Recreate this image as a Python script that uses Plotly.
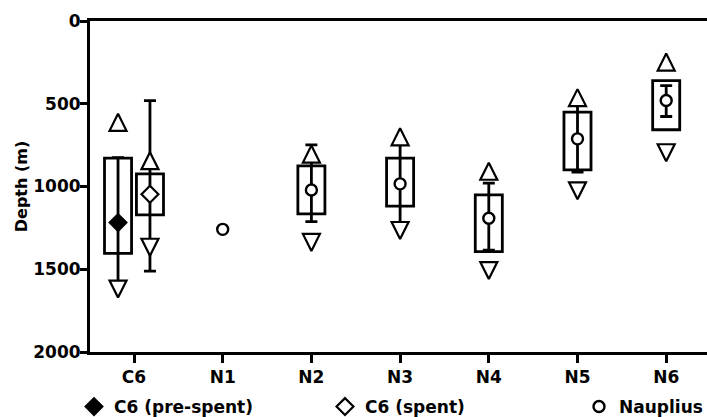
import plotly.graph_objects as go

# ---- data -------------------------------------------------------------
stages = ["C6", "N1", "N2", "N3", "N4", "N5", "N6"]
depth_ticks = [0, 500, 1000, 1500, 2000]

# adult females (C6), split by spawning state
c6_groups = ["C6 (pre-spent)", "C6 (spent)"]
c6_mean = [1218, 1047]
c6_box_top = [829, 924]
c6_box_bottom = [1404, 1172]
c6_whisk_top = [825, 481]
c6_whisk_bottom = [1590, 1511]
c6_shallowest = [612, 844]
c6_deepest = [1620, 1367]

# nauplii N1..N6 (N1 has a single observation)
naup_stage = ["N1", "N2", "N3", "N4", "N5", "N6"]
naup_mean = [1259, 1021, 984, 1192, 712, 480]
naup_box_top = [None, 875, 829, 1051, 550, 360]
naup_box_bottom = [None, 1166, 1118, 1394, 899, 657]
naup_whisk_top = [None, 748, 740, 980, 480, 391]
naup_whisk_bottom = [None, 1212, 1250, 1384, 913, 577]
naup_shallowest = [None, 804, 700, 908, 463, 248]
naup_deepest = [None, 1338, 1266, 1508, 1026, 796]

# ---- layout helpers -----------------------------------------------------
C6_OFFSET = 0.18          # side-by-side placement of the two C6 groups
BOX_WIDTH = 0.305
FONT = "DejaVu Sans"
LW = 2.8
W, H = 707, 417

c6_x = [stages.index("C6") - C6_OFFSET, stages.index("C6") + C6_OFFSET]
naup_x = [stages.index(s) for s in naup_stage]

all_x = c6_x + naup_x
all_mean = c6_mean + naup_mean
all_box_top = c6_box_top + naup_box_top
all_box_bottom = c6_box_bottom + naup_box_bottom
all_wt = c6_whisk_top + naup_whisk_top
all_wb = c6_whisk_bottom + naup_whisk_bottom
all_sh = c6_shallowest + naup_shallowest
all_dp = c6_deepest + naup_deepest


def keep(*cols):
    """Rows where every column has a value."""
    rows = [r for r in zip(*cols) if all(v is not None for v in r)]
    return [list(c) for c in zip(*rows)]


fig = go.Figure()

# interquartile boxes
bx, btop, bbot = keep(all_x, all_box_top, all_box_bottom)
fig.add_trace(go.Bar(
    x=bx, base=btop, y=[b - t for t, b in zip(btop, bbot)],
    width=BOX_WIDTH, marker=dict(color="white", line=dict(color="black", width=LW)),
    showlegend=False, hoverinfo="skip"))

# whiskers
wx, wm, wt, wb = keep(all_x, all_mean, all_wt, all_wb)
fig.add_trace(go.Scatter(
    x=wx, y=wm, mode="markers", marker=dict(size=1, opacity=0),
    error_y=dict(type="data", symmetric=False,
                 array=[b - m for m, b in zip(wm, wb)],
                 arrayminus=[m - t for m, t in zip(wm, wt)],
                 color="black", thickness=LW, width=6),
    showlegend=False, hoverinfo="skip"))

# shallowest / deepest observations
tri_marker = dict(size=17, color="white", line=dict(color="black", width=2.2), standoff=8.5)
sx, sv = keep(all_x, all_sh)
fig.add_trace(go.Scatter(
    x=sx, y=sv, mode="markers",
    marker=dict(symbol="arrow-down", angle=180, **tri_marker),
    showlegend=False, hoverinfo="skip"))
dx, dv = keep(all_x, all_dp)
fig.add_trace(go.Scatter(
    x=dx, y=dv, mode="markers",
    marker=dict(symbol="arrow-down", angle=0, **tri_marker),
    showlegend=False, hoverinfo="skip"))

# means (each in its own legend box along the bottom)
fig.add_trace(go.Scatter(
    x=[c6_x[0]], y=[c6_mean[0]], mode="markers", name=c6_groups[0], legend="legend",
    marker=dict(symbol="diamond", size=13, color="black", line=dict(color="black", width=2))))
fig.add_trace(go.Scatter(
    x=[c6_x[1]], y=[c6_mean[1]], mode="markers", name=c6_groups[1], legend="legend2",
    marker=dict(symbol="diamond", size=13, color="white", line=dict(color="black", width=2.2))))
fig.add_trace(go.Scatter(
    x=naup_x, y=naup_mean, mode="markers", name="Nauplius", legend="legend3",
    marker=dict(symbol="circle", size=11, color="white", line=dict(color="black", width=2.4))))

tickfont = dict(family=FONT, size=17, color="black", weight="bold")
legend_font = dict(family=FONT, size=17, color="black", weight="bold")
LEGEND_Y = 1 - 407 / H


def legend_at(left_px):
    return dict(xref="container", yref="container", x=left_px / W, xanchor="left",
                y=LEGEND_Y, yanchor="middle", orientation="h",
                font=legend_font, bgcolor="rgba(0,0,0,0)")


fig.update_layout(
    width=W, height=H,
    margin=dict(l=90, r=0, t=21, b=65),
    paper_bgcolor="white", plot_bgcolor="white",
    barmode="overlay",
    showlegend=True,
    legend=legend_at(74),
    legend2=legend_at(325),
    legend3=legend_at(579),
    xaxis=dict(range=[-0.496, 6.46], tickmode="array", tickvals=list(range(len(stages))),
               ticktext=stages, showline=True, linecolor="black", linewidth=2.5,
               mirror=True, ticks="outside", ticklen=8, tickwidth=2.5, tickcolor="black",
               showgrid=False, zeroline=False, tickfont=tickfont),
    yaxis=dict(range=[2000, 0], tickmode="array", tickvals=depth_ticks,
               showline=True, linecolor="black", linewidth=3,
               ticks="outside", ticklen=7, tickwidth=3, tickcolor="black",
               ticklabelstandoff=-4,
               showgrid=False, zeroline=False, tickfont=tickfont,
               title=dict(text="Depth (m)", standoff=2,
                          font=dict(family=FONT, size=16, color="black", weight="bold"))),
)

fig.write_html("out.html")
